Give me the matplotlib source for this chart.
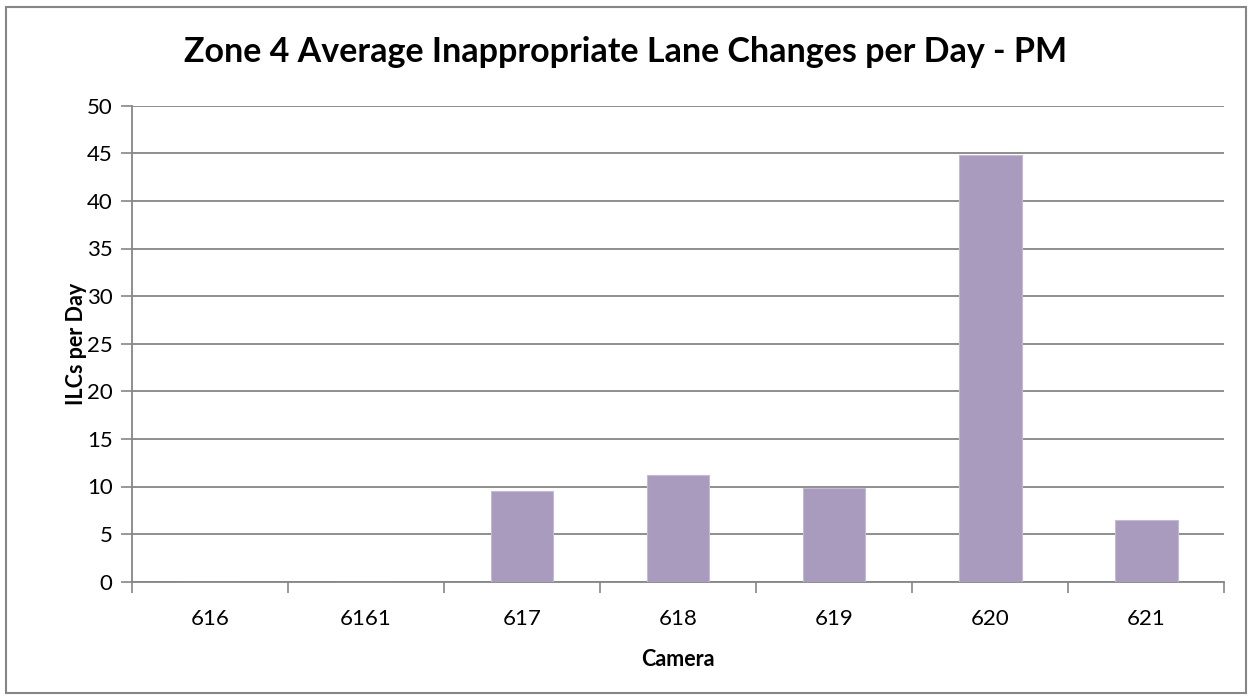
import matplotlib
matplotlib.use('Agg')
import matplotlib.pyplot as plt
from matplotlib.patches import Rectangle
import numpy as np

cameras = ['616', '6161', '617', '618', '619', '620', '621']
ilcs = [0, 0, 9.5, 11.2, 9.8, 44.8, 6.45]

plt.rcParams['font.family'] = ['Lato', 'DejaVu Sans']

fig = plt.figure(figsize=(12.52, 7), dpi=100)
ax = fig.add_axes([0.1054, 0.169, 0.8726, 0.68])

x = np.arange(len(cameras))
ax.bar(x, ilcs, width=0.4, color='#a99bbe', edgecolor='#c4bad4', linewidth=0.8, zorder=3)

ax.set_xlim(-0.5, len(cameras) - 0.5)
ax.set_ylim(0, 50)
ax.set_yticks(np.arange(0, 51, 5))
ax.set_xticks(x)
ax.set_xticklabels(cameras)
ax.set_xticks(np.arange(-0.5, len(cameras), 1), minor=True)
ax.tick_params(axis='x', which='major', length=0, pad=20, labelsize=16)
ax.tick_params(axis='x', which='minor', length=8, width=1.2, color='#868686', direction='out')
ax.tick_params(axis='y', length=8, width=1.2, color='#868686', labelsize=16, pad=6)
ax.yaxis.grid(True, color='#868686', linewidth=1.3, zorder=0)

for s in ['top', 'right']:
    ax.spines[s].set_visible(False)
for s in ['left', 'bottom']:
    ax.spines[s].set_color('#868686')
    ax.spines[s].set_linewidth(1.3)

ax.set_ylabel('ILCs per Day', fontsize=15.5, fontweight='bold', labelpad=0)
ax.set_xlabel('Camera', fontsize=15.5, fontweight='bold', labelpad=14)
fig.text(0.5, 0.925, 'Zone 4 Average Inappropriate Lane Changes per Day - PM',
         ha='center', va='center', fontsize=24.5, fontweight='bold')

fig.patches.append(Rectangle((0.005, 0.01), 0.99, 0.98, transform=fig.transFigure,
                             fill=False, edgecolor='#868686', linewidth=1.5))

fig.savefig('out.png', dpi=100)
